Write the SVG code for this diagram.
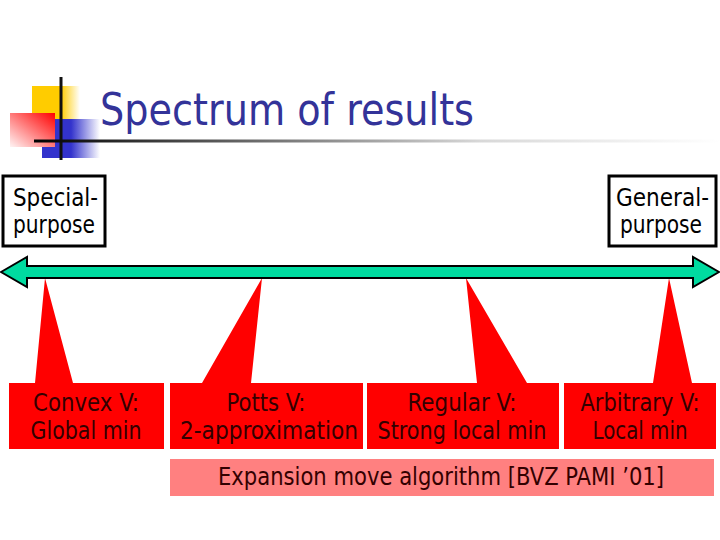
<svg xmlns="http://www.w3.org/2000/svg" width="720" height="540" viewBox="0 0 720 540">
<defs>
<linearGradient id="gYel" x1="0" y1="0" x2="1" y2="0"><stop offset="0" stop-color="#FFCC00"/><stop offset="0.6" stop-color="#FFCC00"/><stop offset="1" stop-color="#FFFFFF"/></linearGradient>
<linearGradient id="gBlu" x1="0" y1="0" x2="1" y2="0"><stop offset="0" stop-color="#3333CC"/><stop offset="0.5" stop-color="#3333CC"/><stop offset="1" stop-color="#FFFFFF"/></linearGradient>
<linearGradient id="gRed" x1="0" y1="1" x2="1" y2="0"><stop offset="0" stop-color="#FFF4F4"/><stop offset="1" stop-color="#FF0000"/></linearGradient>
<linearGradient id="gLine" gradientUnits="userSpaceOnUse" x1="34" y1="0" x2="720" y2="0"><stop offset="0" stop-color="#000000"/><stop offset="0.65" stop-color="#D8D8D8"/><stop offset="1" stop-color="#FFFFFF"/></linearGradient>
<style>
.t{font-family:"DejaVu Sans Condensed","DejaVu Sans",sans-serif;font-stretch:condensed;}
.lbl{font-size:24px;fill:#000;}
.rl{font-size:24px;fill:#330000;text-anchor:middle;}
.box{fill:#FFFFFF;stroke:#000;stroke-width:3;}
.call{fill:#FF0000;}
</style>
</defs>
<rect width="720" height="540" fill="#FFFFFF"/>
<g id="logo">
<rect x="32" y="86" width="48" height="33" fill="url(#gYel)"/>
<rect x="42" y="119" width="58" height="39" fill="url(#gBlu)"/>
<rect x="10" y="113" width="45" height="34" fill="url(#gRed)"/>
<line x1="61" y1="77" x2="61" y2="160" stroke="#111" stroke-width="3"/>
<line x1="34" y1="141" x2="720" y2="141" stroke="url(#gLine)" stroke-width="3"/>
</g>
<g id="title"><text class="t" x="100" y="125" font-size="44" fill="#333399" textLength="374" lengthAdjust="spacingAndGlyphs">Spectrum of results</text></g>
<g id="special">
<rect class="box" x="3" y="176" width="102" height="70"/>
<text class="t lbl" x="13" y="206" textLength="85" lengthAdjust="spacingAndGlyphs">Special-</text>
<text class="t lbl" x="13" y="233" textLength="82" lengthAdjust="spacingAndGlyphs">purpose</text>
</g>
<g id="general">
<rect class="box" x="609" y="176" width="107" height="70"/>
<text class="t lbl" x="616" y="206" textLength="93" lengthAdjust="spacingAndGlyphs">General-</text>
<text class="t lbl" x="620" y="233" textLength="82" lengthAdjust="spacingAndGlyphs">purpose</text>
</g>
<g id="convex">
<path class="call" d="M9,383 H35 L45,278 L73,383 H164 V449 H9 Z"/>
<text class="t rl" x="86" y="411" textLength="106" lengthAdjust="spacingAndGlyphs">Convex V:</text>
<text class="t rl" x="86" y="439" textLength="111" lengthAdjust="spacingAndGlyphs">Global min</text>
</g>
<g id="potts">
<path class="call" d="M170,383 H202 L262,278 L251,383 H363 V449 H170 Z"/>
<text class="t rl" x="266" y="411" textLength="79" lengthAdjust="spacingAndGlyphs">Potts V:</text>
<text class="t rl" x="269" y="439" textLength="178" lengthAdjust="spacingAndGlyphs">2-approximation</text>
</g>
<g id="regular">
<path class="call" d="M367,383 H477 L466,278 L527,383 H559 V449 H367 Z"/>
<text class="t rl" x="462" y="411" textLength="109" lengthAdjust="spacingAndGlyphs">Regular V:</text>
<text class="t rl" x="462" y="439" textLength="169" lengthAdjust="spacingAndGlyphs">Strong local min</text>
</g>
<g id="arbitrary">
<path class="call" d="M564,383 H653 L669,278 L692,383 H716 V449 H564 Z"/>
<text class="t rl" x="640" y="411" textLength="119" lengthAdjust="spacingAndGlyphs">Arbitrary V:</text>
<text class="t rl" x="640" y="439" textLength="95" lengthAdjust="spacingAndGlyphs">Local min</text>
</g>
<g id="connectors">
<polygon id="spectrum-arrow" points="1,272 27,257 27,266 693,266 693,257 719,272 693,287 693,278 27,278 27,287" fill="#00DBA0" stroke="#000" stroke-width="2" stroke-linejoin="miter"/>
</g>
<g id="expansion">
<rect x="170" y="459" width="544" height="37" fill="#FF8080"/>
<text class="t rl" x="441" y="485" textLength="446" lengthAdjust="spacingAndGlyphs">Expansion move algorithm [BVZ PAMI &#8217;01]</text>
</g>
</svg>
